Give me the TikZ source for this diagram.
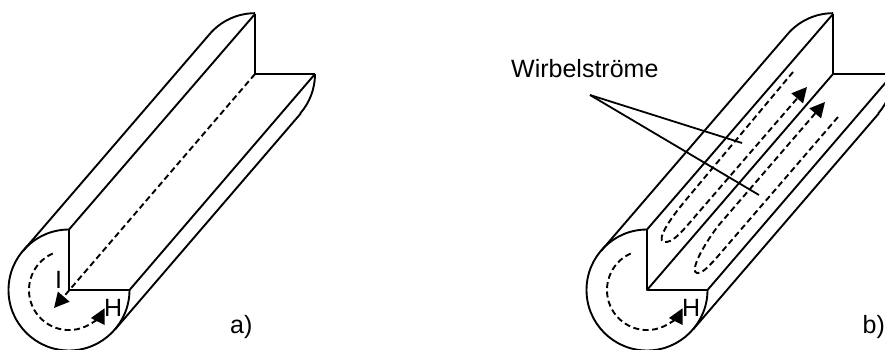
\documentclass[tikz,border=0pt]{standalone}
\usepackage{fontspec}
\setmainfont{Liberation Sans}
\usetikzlibrary{arrows.meta}

\begin{document}
\begin{tikzpicture}[
    x=1pt, y=-1pt,
    >={Triangle[length=15pt,width=15pt]},
    outline/.style={line width=1.9pt, line join=round},
    farend/.style={line width=2.7pt, line join=miter},
    hidden/.style={line width=1.9pt, dash pattern=on 6pt off 3.5pt},
    leader/.style={line width=1.8pt},
    lbl/.style={inner sep=0pt, anchor=base west, font=\fontsize{25}{28}\selectfont},
    trough/.pic={
      \coordinate (-c) at (69,290);
      \coordinate (-t) at (69,229.5);
      \coordinate (-r) at (129.5,290);
      \coordinate (-C) at (255,74);
      \coordinate (-T) at (255,14);
      \coordinate (-R) at (315,74);
      \coordinate (-lt) at (23,251);
      \coordinate (-rt) at (115,329.5);
      \coordinate (-LT) at (209.2,34.6);
      \coordinate (-RT) at (300.8,113.4);
      % front face
      \draw[outline] (-t) -- (-c) -- (-r)
        arc[start angle=0, end angle=270, radius=60.5];
      % far end
      \draw[farend] (-T) -- (-C) -- (-R);
      \draw[outline] (-LT) arc[start angle=220, end angle=270, radius=60];
      \draw[outline] (-R) arc[start angle=0, end angle=41, radius=60];
      % long edges
      \draw[outline] (-lt) -- (-LT);
      \draw[outline] (-t) -- (-T);
      \draw[outline] (-r) -- (-R);
      \draw[outline] (-rt) -- (-RT);
      % field line
      \draw[hidden, ->] (52.7,253.5) arc[start angle=246, end angle=27, radius=40];
      \node[lbl] (-h) at (104,316) {H};
    }
  ]
    \clip (0,0) rectangle (885,349);

    \pic (a) at (0,0) {trough};
    \pic (b) at (578,0) {trough};

    % part a
    \draw[hidden, ->] (a-C) -- (54,308);
    \node[lbl] (i) at (55,288) {I};
    \node[lbl] (la) at (230,333) {a)};

    % part b
    \draw[outline] (b-c) -- (b-C);
    \draw[hidden, ->] (793,72) -- (690,195) .. controls (672,216) and (655,240) .. (664,242)
      .. controls (672,243) and (680,234) .. (692,220) -- (807,87);
    \draw[hidden, ->] (838,117) -- (725,248) .. controls (712,263) and (703,274) .. (697,273)
      .. controls (690,272) and (700,250) .. (718,226) -- (825,102);
    \node[lbl] (lb) at (862.5,333) {b)};

    \node[lbl] (wirbel) at (511,77) {Wirbelströme};
    \coordinate (w) at (590,95);
    \coordinate (w1) at (742,143);
    \coordinate (w2) at (759,195);
    \draw[leader] (w) -- (w1);
    \draw[leader] (w) -- (w2);
\end{tikzpicture}
\end{document}
